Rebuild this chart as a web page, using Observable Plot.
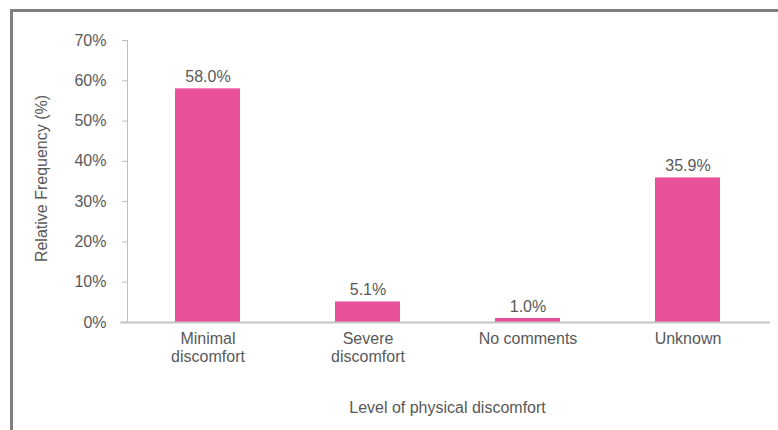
<!DOCTYPE html>
<html>
<head>
<meta charset="utf-8">
<script src="https://cdn.jsdelivr.net/npm/d3@7"></script>
<script src="https://cdn.jsdelivr.net/npm/@observablehq/plot@0.6"></script>
<style>
  html, body { margin: 0; padding: 0; background: #fff; }
  #wrap { position: relative; width: 778px; height: 430px; overflow: hidden; }
  #frame { position: absolute; left: 10px; top: 9px; right: 0; bottom: 0;
           border-top: 3px solid #7f7f7f; border-left: 3px solid #7f7f7f; pointer-events: none; }
  #chart { position: absolute; left: 0; top: 0; }
</style>
</head>
<body>
<div id="wrap"><div id="chart"></div><div id="frame"></div></div>
<script>
const categories = ["Minimal\ndiscomfort", "Severe\ndiscomfort", "No comments", "Unknown"];
const values = [58.0, 5.1, 1.0, 35.9];
const yTicks = [0, 10, 20, 30, 40, 50, 60, 70];
const xLabel = "Level of physical discomfort";
const yLabel = "Relative Frequency (%)";

const data = categories.map((c, i) => ({category: c, value: values[i]}));
const textColor = "#595959";

const chart = Plot.plot({
  width: 778,
  height: 430,
  marginLeft: 127,
  marginRight: 11,
  marginTop: 40,
  marginBottom: 108,
  style: {fontSize: "16px", fontFamily: "'Liberation Sans', Arial, sans-serif", color: textColor, background: "transparent"},
  x: {domain: categories, paddingInner: 0.594, paddingOuter: 0.297, label: null},
  y: {domain: [0, 70], ticks: yTicks, label: null},
  marks: [
    Plot.barY(data, {x: "category", y: "value", fill: "#e8519a"}),
    Plot.frame({anchor: "left", stroke: "#bfbfbf"}),
    Plot.ruleY([0], {stroke: "#c6c6c6", strokeWidth: 2, insetLeft: -7, insetRight: -3}),
    Plot.axisY({ticks: yTicks, tickFormat: d => d + "%", tickSize: 5, tickPadding: 16,
                stroke: "#bfbfbf", fill: textColor, fontSize: 16, label: null}),
    Plot.axisX({tickSize: 0, tickPadding: 9, fill: textColor, fontSize: 16,
                lineHeight: 1.12, label: null}),
    Plot.text(data, {x: "category", y: "value", text: d => d.value.toFixed(1) + "%",
                     dy: -12, fill: textColor, fontSize: 16}),
    Plot.text([xLabel], {frameAnchor: "bottom", dy: 90, fill: textColor, fontSize: 16}),
    Plot.text([yLabel], {frameAnchor: "left", textAnchor: "middle", dx: -86, dy: -3, rotate: -90, fill: textColor, fontSize: 16})
  ]
});
document.getElementById("chart").appendChild(chart);
</script>
</body>
</html>
